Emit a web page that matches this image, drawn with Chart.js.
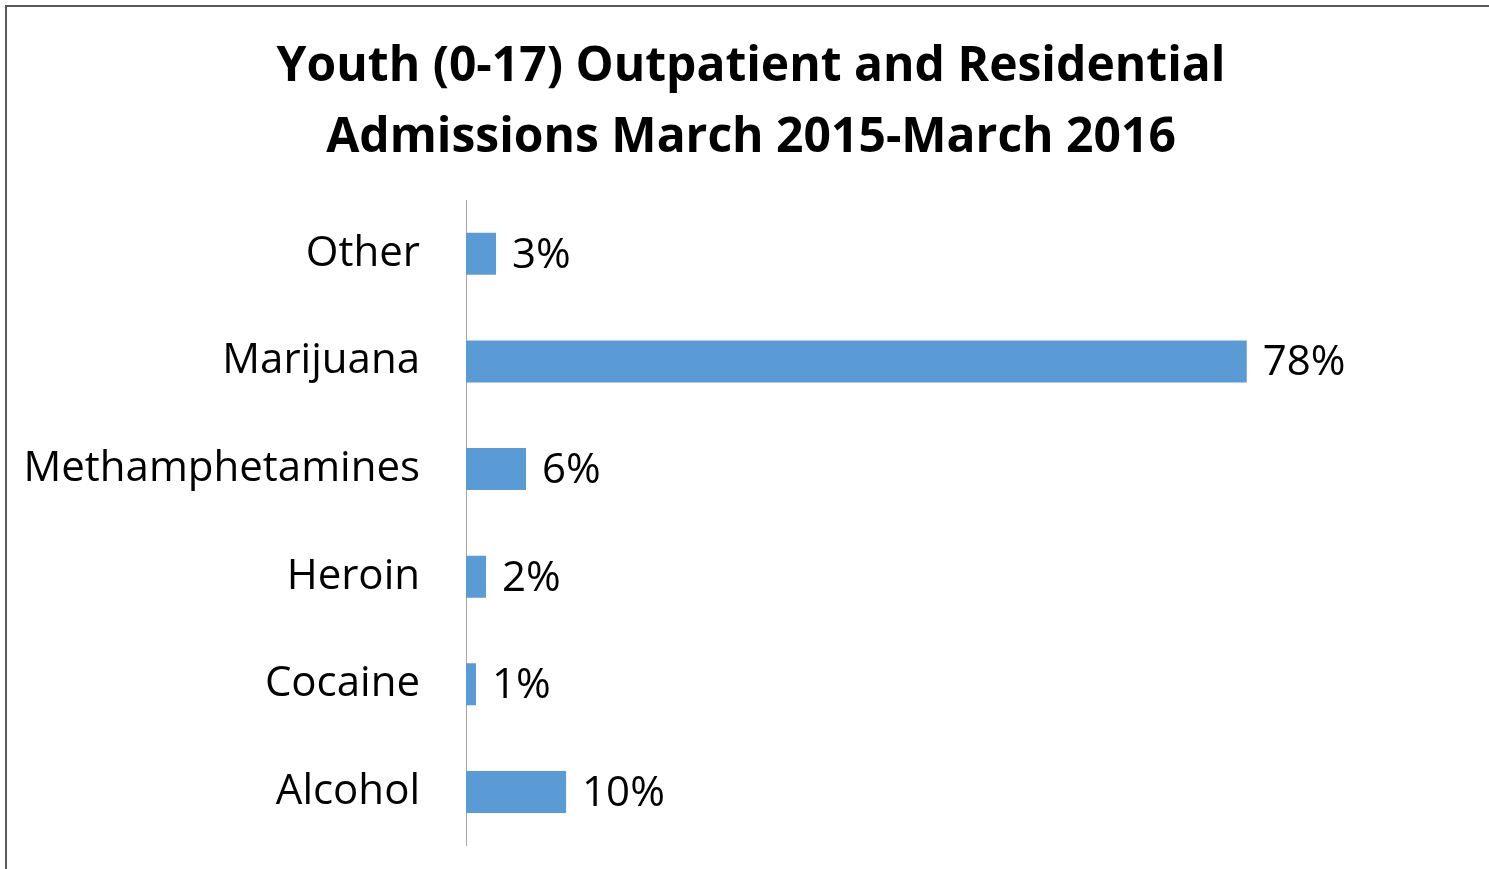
<!DOCTYPE html>
<html>
<head>
<meta charset="utf-8">
<script src="https://cdn.jsdelivr.net/npm/chart.js@4"></script>
<style>
  html, body { margin: 0; padding: 0; background: #fff; overflow: hidden; }
  #frame {
    position: absolute; left: 5px; top: 5px; width: 1600px; height: 1000px;
    border-top: 2px solid #595959; border-left: 2px solid #595959;
  }
  #wrap { position: absolute; left: 0; top: 0; width: 1502px; height: 917px; }
</style>
</head>
<body>
<div id="frame"></div>
<div id="wrap"><canvas id="admissions-chart"></canvas></div>
<script>
  const substances = ["Other", "Marijuana", "Methamphetamines", "Heroin", "Cocaine", "Alcohol"];
  const percentages = [3, 78, 6, 2, 1, 10];
  const titleLines = ["Youth (0-17) Outpatient and Residential", "Admissions March 2015-March 2016"];

  const fontFamily = "'Open Sans', 'Noto Sans', sans-serif";

  // writes "NN%" just past the end of each bar
  const barValueLabels = {
    id: "barValueLabels",
    afterDatasetsDraw(chart) {
      const ctx = chart.ctx;
      const meta = chart.getDatasetMeta(0);
      ctx.save();
      ctx.font = `42px ${fontFamily}`;
      ctx.fillStyle = "#000";
      ctx.textAlign = "left";
      ctx.textBaseline = "middle";
      meta.data.forEach((bar, i) => {
        ctx.fillText(percentages[i] + "%", bar.x + 16, bar.y + 2);
      });
      ctx.restore();
    }
  };

  const canvas = document.getElementById("admissions-chart");

  new Chart(canvas, {
    type: "bar",
    data: {
      labels: substances,
      datasets: [{
        data: percentages,
        backgroundColor: "#5b9bd5",
        barPercentage: 0.39,
        categoryPercentage: 1
      }]
    },
    options: {
      indexAxis: "y",
      responsive: true,
      maintainAspectRatio: false,
      animation: false,
      layout: {
        padding: { top: 0, right: 0, bottom: 24, left: 0 }
      },
      plugins: {
        legend: { display: false },
        tooltip: { enabled: false },
        title: {
          display: true,
          text: titleLines,
          color: "#000",
          font: { family: fontFamily, size: 48, weight: "bold", lineHeight: 71 / 48 },
          padding: { top: 32, bottom: 26 }
        }
      },
      scales: {
        x: {
          display: false,
          min: 0,
          max: 103.5
        },
        y: {
          grid: { display: false, drawTicks: false },
          border: { display: true, color: "#a6a6a6", width: 1 },
          ticks: {
            color: "#000",
            padding: 46,
            font: { family: fontFamily, size: 42 }
          },
          afterFit(scale) {
            scale.width = 466;
          }
        }
      }
    },
    plugins: [barValueLabels]
  });
</script>
</body>
</html>
